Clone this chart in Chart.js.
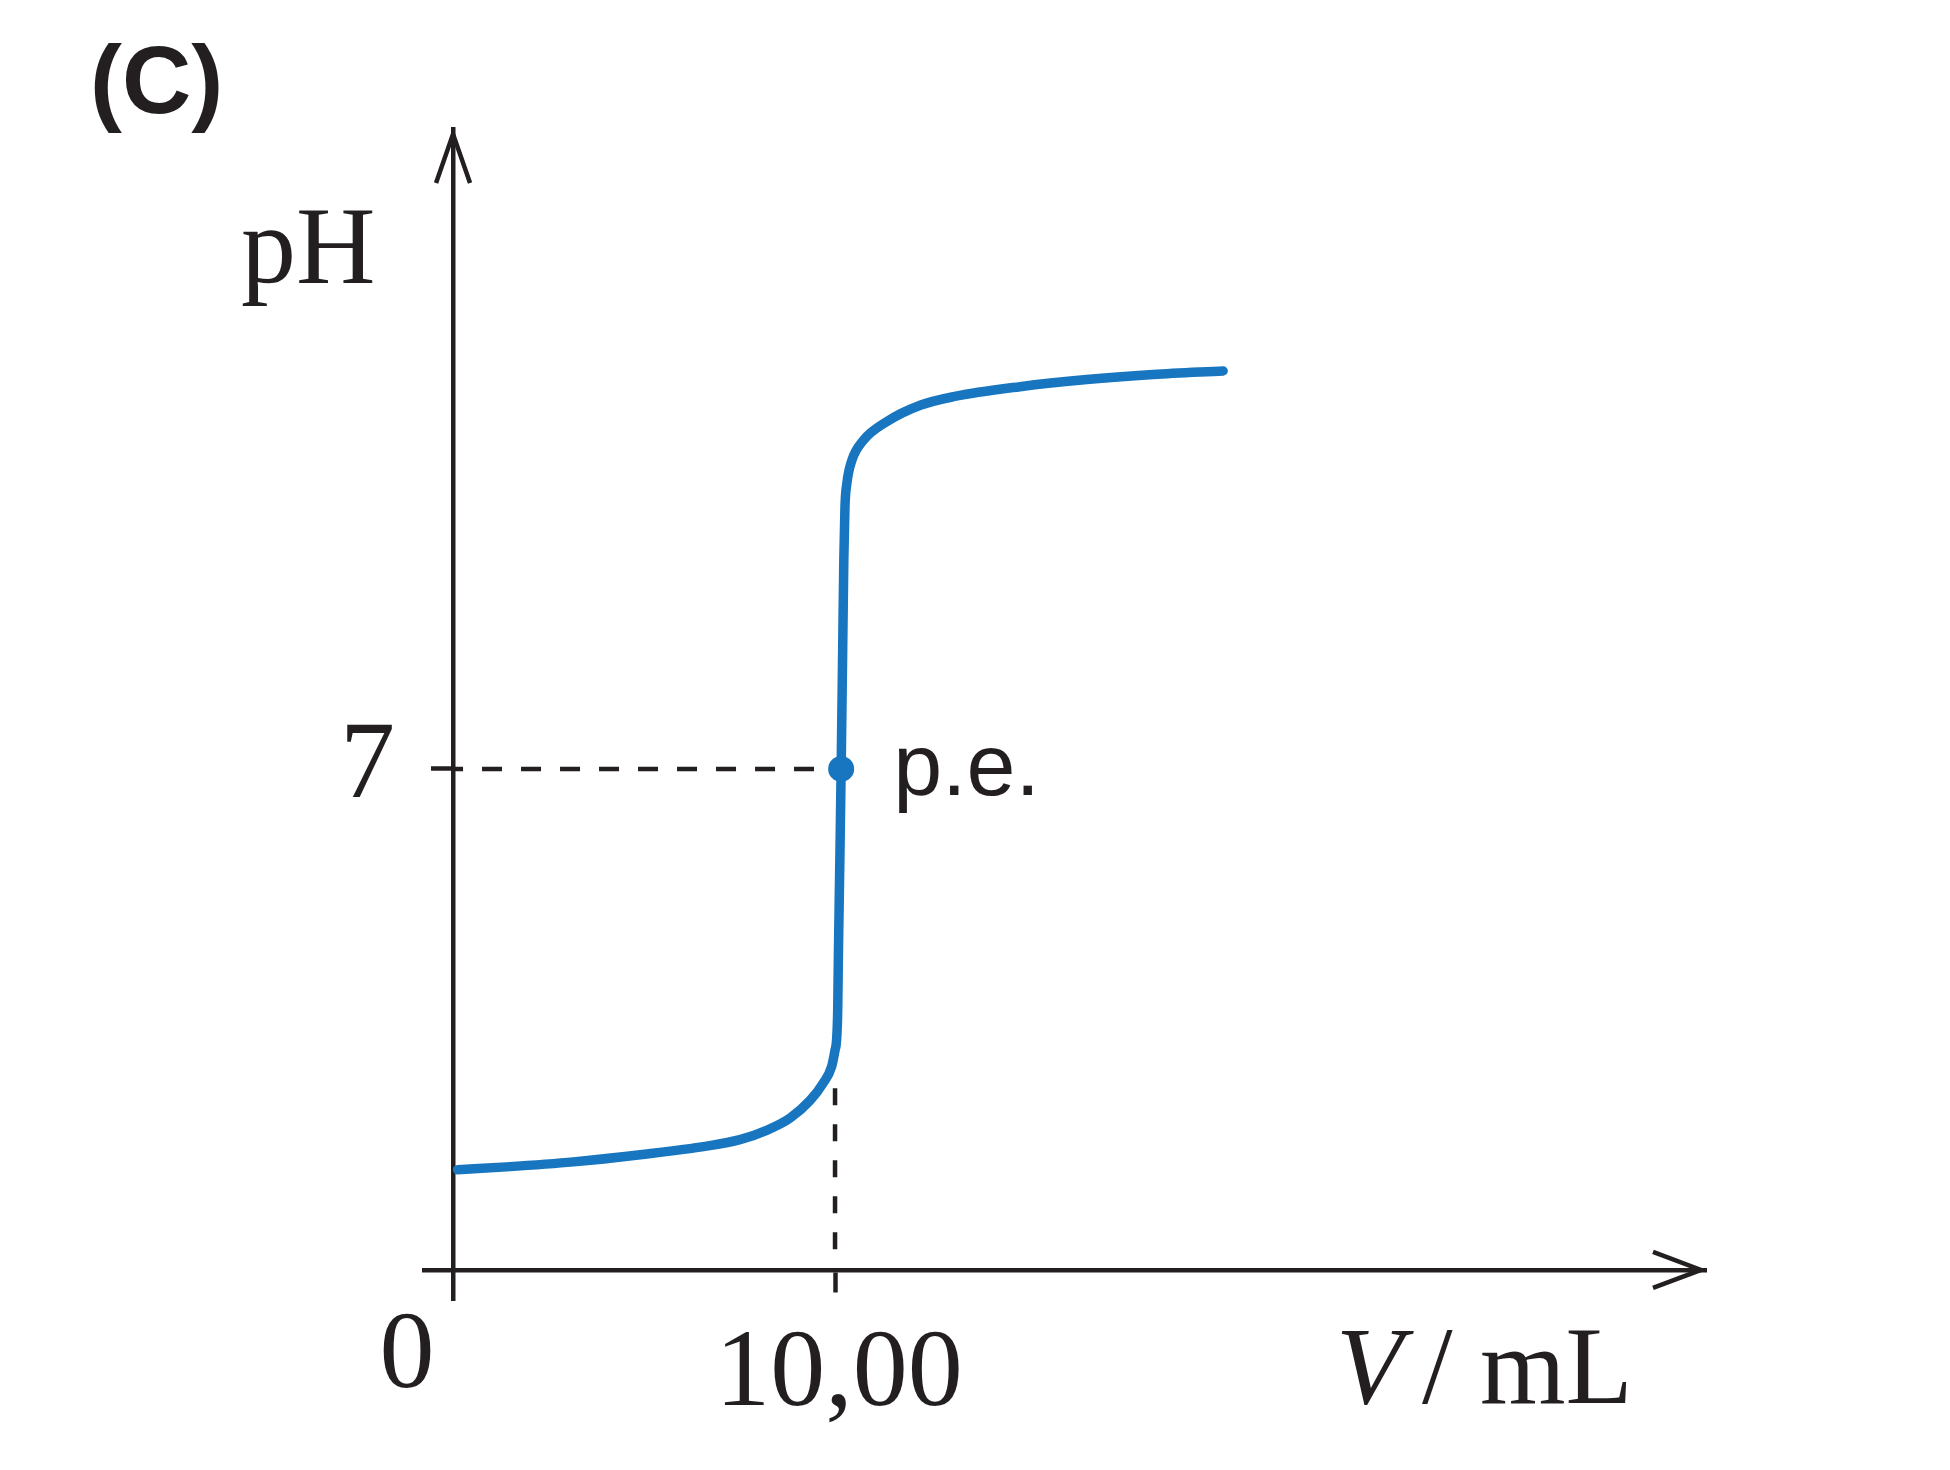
<!DOCTYPE html>
<html lang="pt">
  <head>
    <meta charset="UTF-8" />
    <title>Curva de titulação (C)</title>
    <script src="https://cdn.jsdelivr.net/npm/chart.js"></script>
    <style>
      html, body { margin: 0; padding: 0; background: #ffffff; overflow: hidden; }
      #wrap { width: 1950px; height: 1470px; position: relative; }
    </style>
  </head>
  <body>
    <div id="wrap">
      <canvas id="titrationChart"></canvas>
    </div>
    <script>
      const volumeML = [0.12, 1.4, 3.15, 4.9, 6.64, 7.51, 8.21, 8.82, 9.35, 9.69, 9.91, 10.0, 10.04,
        10.07, 10.09, 10.13, 10.16, 10.2, 10.23, 10.26, 10.31, 10.44, 10.74, 11.35, 12.23, 13.1,
        14.84, 16.59, 18.33, 20.16];
      const pHValues = [1.4, 1.44, 1.51, 1.61, 1.73, 1.82, 1.95, 2.12, 2.37, 2.61, 2.84, 3.07, 3.21,
        3.63, 4.47, 5.87, 7.0, 8.66, 9.92, 10.66, 10.99, 11.31, 11.59, 11.85, 12.08, 12.2,
        12.34, 12.44, 12.51, 12.56];

      // equivalence point (p.e.)
      const peVolume = 10.16;
      const pePH = 7;
      const peLabel = "p.e.";

      // tick marks and their labels
      const xTickValues = [10];
      const xTickLabels = ["10,00"];
      const yTickValues = [7];
      const yTickLabels = ["7"];
      const originLabel = "0";

      // vertical guide from the axis up to the foot of the jump
      const vGuideVolume = 10;
      const vGuideTopPH = 2.54;

      const INK = "#231f20";
      const BLUE = "#1776bf";

      const curvePoints = volumeML.map((v, i) => ({ x: v, y: pHValues[i] }));

      const axisDecor = {
        id: "axisDecor",
        afterDraw(chart) {
          const ctx = chart.ctx;
          const xs = chart.scales.x;
          const ys = chart.scales.y;
          const x0 = xs.getPixelForValue(0);
          const y0 = ys.getPixelForValue(0);
          const top = chart.chartArea.top;
          const right = chart.chartArea.right;

          ctx.save();
          ctx.strokeStyle = INK;
          ctx.fillStyle = INK;
          ctx.lineWidth = 4.5;
          ctx.lineJoin = "miter";

          // arrow heads
          ctx.beginPath();
          ctx.moveTo(x0 - 17, top + 54);
          ctx.lineTo(x0, top + 5);
          ctx.lineTo(x0 + 17, top + 54);
          ctx.stroke();
          ctx.beginPath();
          ctx.moveTo(right - 53, y0 - 18);
          ctx.lineTo(right - 5, y0);
          ctx.lineTo(right - 53, y0 + 18);
          ctx.stroke();

          // panel letter
          ctx.textBaseline = "alphabetic";
          ctx.textAlign = "left";
          ctx.font = 'bold 96px "Liberation Sans", Arial, sans-serif';
          ctx.fillText("(C)", 90, 113);

          // axis titles
          ctx.font = '110px "Liberation Serif", "Times New Roman", serif';
          ctx.fillText("pH", x0 - 212, 283);
          ctx.font = 'italic 110px "Liberation Serif", "Times New Roman", serif';
          ctx.fillText("V", 1336, 1403);
          ctx.font = '110px "Liberation Serif", "Times New Roman", serif';
          ctx.fillText("/", 1422, 1403);
          ctx.fillText("mL", 1480, 1403);

          // tick labels
          ctx.textAlign = "center";
          ctx.fillText(originLabel, x0 - 46, y0 + 117);
          xTickValues.forEach((v, i) => {
            ctx.fillText(xTickLabels[i], xs.getPixelForValue(v) + 4, y0 + 135);
          });
          ctx.textAlign = "right";
          yTickValues.forEach((v, i) => {
            ctx.fillText(yTickLabels[i], x0 - 58, ys.getPixelForValue(v) + 28);
          });

          // equivalence point label
          ctx.textAlign = "left";
          ctx.font = '88px "Liberation Sans", Arial, sans-serif';
          ctx.fillText(peLabel, xs.getPixelForValue(peVolume) + 52, ys.getPixelForValue(pePH) + 26);
          ctx.restore();
        },
      };

      window.onload = function () {
        const ctx = document.getElementById("titrationChart");
        new Chart(ctx, {
          type: "scatter",
          data: {
            datasets: [
              {
                label: "p.e.",
                data: [{ x: peVolume, y: pePH }],
                pointRadius: 13,
                pointBackgroundColor: BLUE,
                pointBorderWidth: 0,
                showLine: false,
              },
              {
                label: "pH",
                data: curvePoints,
                showLine: true,
                borderColor: BLUE,
                borderWidth: 9.5,
                borderCapStyle: "round",
                borderJoinStyle: "round",
                cubicInterpolationMode: "monotone",
                pointRadius: 0,
              },
              {
                label: "guia pH 7",
                data: [{ x: 0, y: pePH }, { x: peVolume, y: pePH }],
                showLine: true,
                borderColor: INK,
                borderWidth: 4.5,
                borderDash: [20, 19],
                borderDashOffset: 10,
                pointRadius: 0,
              },
              {
                label: "guia 10,00",
                data: [{ x: vGuideVolume, y: vGuideTopPH }, { x: vGuideVolume, y: 0 }],
                showLine: true,
                borderColor: INK,
                borderWidth: 4.5,
                borderDash: [17, 19],
                pointRadius: 0,
              },
            ],
          },
          options: {
            responsive: true,
            maintainAspectRatio: false,
            animation: false,
            layout: { padding: { left: 424, top: 129, right: 244, bottom: 170 } },
            plugins: {
              legend: { display: false },
              tooltip: { enabled: false },
            },
            scales: {
              x: {
                type: "linear",
                min: -0.76,
                max: 32.8,
                position: { y: 0 },
                afterBuildTicks: (scale) => {
                  scale.ticks = xTickValues.map((v) => ({ value: v }));
                },
                ticks: { display: false },
                grid: {
                  drawOnChartArea: false,
                  drawTicks: true,
                  tickLength: 20,
                  tickWidth: 4.5,
                  tickColor: INK,
                },
                border: { display: true, color: INK, width: 4.5 },
              },
              y: {
                type: "linear",
                min: -0.42,
                max: 15.94,
                position: { x: 0 },
                afterBuildTicks: (scale) => {
                  scale.ticks = yTickValues.map((v) => ({ value: v }));
                },
                ticks: { display: false },
                grid: {
                  drawOnChartArea: false,
                  drawTicks: true,
                  tickLength: 20,
                  tickWidth: 4.5,
                  tickColor: INK,
                },
                border: { display: true, color: INK, width: 4.5 },
              },
            },
          },
          plugins: [axisDecor],
        });
      };
    </script>
  </body>
</html>
